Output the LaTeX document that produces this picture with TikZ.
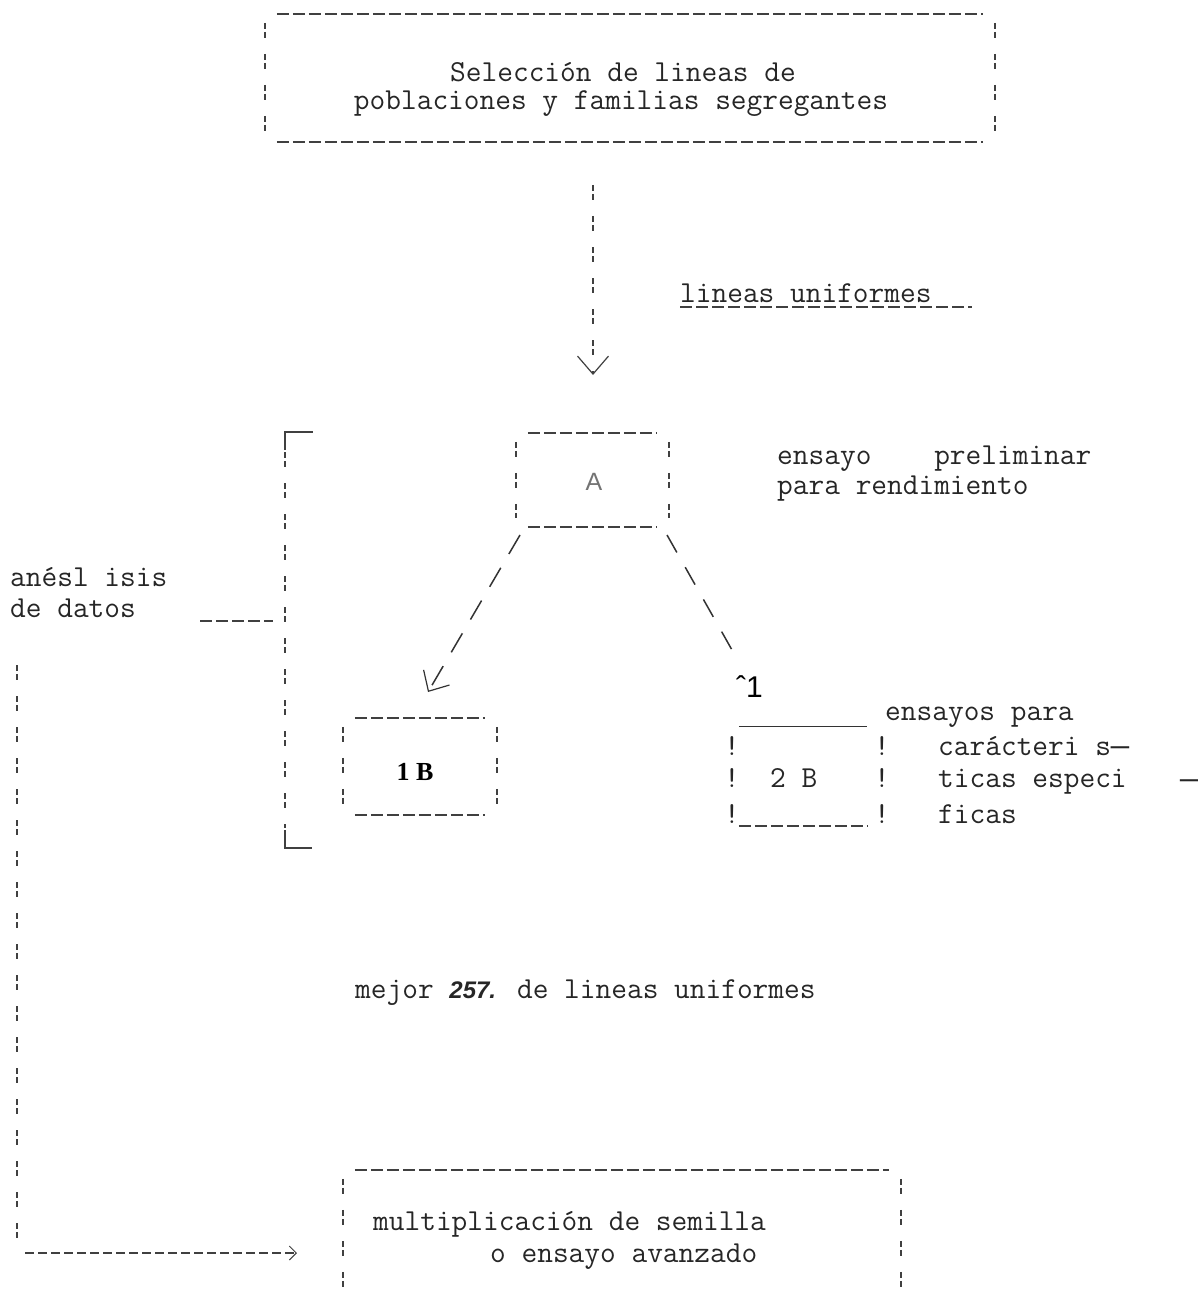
\documentclass[tikz,border=0pt]{standalone}
\usepackage{fontspec}
\setmainfont{Liberation Serif}
\newfontfamily\sansfont{Liberation Sans}
\newfontfamily\monoalt{Liberation Mono}
\usetikzlibrary{arrows.meta}

\newcommand\twframe[1]{%
  \draw[twh] ([xshift=12pt]#1.north west) -- ([xshift=-12pt]#1.north east)
             ([xshift=12pt]#1.south west) -- ([xshift=-12pt]#1.south east);
  \draw[twv] ([yshift=-9pt]#1.north west) -- ([yshift=9pt]#1.south west)
             ([yshift=-9pt]#1.north east) -- ([yshift=9pt]#1.south east);}

\begin{document}
\begin{tikzpicture}[x=1pt,y=-1pt,
    tw/.style={font=\ttfamily\fontsize{30.5}{32}\selectfont,text=black!85,inner sep=0pt,anchor=base west},
    twh/.style={draw=black!75,line width=1.5pt,dash pattern=on 12pt off 4pt},
    twv/.style={draw=black!75,line width=1.9pt,dash pattern=on 6pt off 3pt on 6pt off 16pt},
    twd/.style={draw=black!80,line width=1.5pt,dash pattern=on 22pt off 16pt},
    vee/.style={-{Straight Barb[length=18pt,width=31pt,line width=1.2pt]}},
    twbox/.style={inner sep=0pt}]
\useasboundingbox (0,0) rectangle (1197,1297);

\node[twbox,minimum width=730pt,minimum height=128pt] (selbox) at (630,78) {};
\twframe{selbox}
\node[tw,anchor=base] (sel1) at (623,82) {Selección de lineas de};
\node[tw,anchor=base] (sel2) at (621,110) {poblaciones y familias segregantes};

\coordinate (selout) at (593,185);
\coordinate (ain) at (593,375);
\draw[twv,vee] (selout) -- (ain);
\node[tw] (lu) at (680,302) {lineas uniformes};
\draw[twh] ([yshift=-5pt]lu.base west) -- ([yshift=-5pt,xshift=40pt]lu.base east);

\node[twbox,minimum width=153pt,minimum height=94pt] (abox) at (592.5,480) {};
\twframe{abox}
\node[font=\sansfont\fontsize{25}{25}\selectfont,text=black!55,inner sep=0pt] (a) at (594,482) {A};
\node[tw] (pre1) at (777,464) {ensayo\ \ \ \ preliminar};
\node[tw] (pre2) at (777,494) {para rendimiento};

% corchete de analisis
\coordinate (bktop) at (285,432);
\coordinate (bkbot) at (285,848);
\draw[twv] ([yshift=-20pt]bktop) -- ([yshift=20pt]bkbot);
\draw[black!75,line width=1.4pt] ([yshift=-18pt]bktop) -- (bktop) -- ++(28,0);
\draw[black!75,line width=1.4pt] ([yshift=18pt]bkbot) -- (bkbot) -- ++(27,0);
\node[tw] (anal1) at (10,586) {anésl isis};
\node[tw] (anal2) at (10,617) {de datos};
\coordinate (dtend) at (200,621);
\coordinate (bkmid) at (273,621);
\draw[twh] (dtend) -- (bkmid);

\coordinate (adl) at (520,535);
\coordinate (b1in) at (428,692);
\draw[twd,-{Straight Barb[length=16pt,width=30pt,line width=1.2pt]}] (adl) -- (b1in);
\coordinate (adr) at (667,535);
\coordinate (b2up) at (732,650);
\draw[twd,dash pattern=on 20pt off 17pt] (adr) -- (b2up);

\node[twbox,minimum width=154pt,minimum height=97pt] (b1box) at (420,766.5) {};
\twframe{b1box}
\node[font=\bfseries\fontsize{26}{26}\selectfont,inner sep=0pt] (b1) at (415,772) {1 B};

\node[font=\sansfont\fontsize{30}{30}\selectfont,inner sep=0pt,anchor=base west] (up1) at (736,697) {ˆ1};
\node[twbox,minimum width=128pt,minimum height=99pt] (b2box) at (803,776.5) {};
\draw[black!80,line width=1.3pt] (b2box.north west) -- (b2box.north east);
\draw[twh] (b2box.south west) -- (b2box.south east);
\foreach \r [count=\i] in {755,787,823}{
  \node[tw,anchor=base] (bl\i) at (732,\r) {!};
  \node[tw,anchor=base] (br\i) at (882,\r) {!};
}
\node[tw] (b2) at (770,787) {2 B};
\node[tw] (esp1) at (885,720) {ensayos para};
\node[tw] (esp2) at (938,755) {carácteri s{\monoalt —}};
\node[tw] (esp3) at (938,787) {ticas especi};
\node[tw] (esp4) at (938,823) {ficas};
\node[tw] (edge) at (1180,788) {{\monoalt —}};

\node[tw] (mej) at (355,998) {mejor {\sansfont\bfseries\itshape\fontsize{24}{24}\selectfont 257.} de lineas uniformes};

\coordinate (lvtop) at (17,665);
\coordinate (lvcorner) at (17,1253);
\coordinate (multin) at (297,1253);
\draw[twv] (lvtop) -- (lvcorner);
\draw[twh,dash pattern=on 9pt off 4pt,-{Straight Barb[length=7pt,width=14pt,line width=1pt]}] ([xshift=8pt]lvcorner) -- (multin);

\node[twbox,minimum width=558pt,minimum height=160pt] (multbox) at (622,1250) {};
\twframe{multbox}
\node[tw] (mul1) at (373,1230) {multiplicación de semilla};
\node[tw] (mul2) at (490,1262) {o ensayo avanzado};
\end{tikzpicture}
\end{document}
